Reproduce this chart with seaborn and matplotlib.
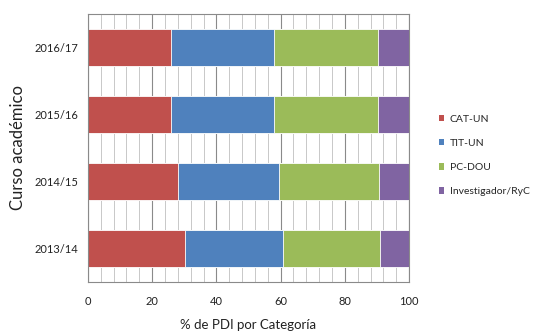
import matplotlib
matplotlib.use("Agg")
import matplotlib.pyplot as plt
from matplotlib.patches import Patch
from matplotlib.ticker import MultipleLocator
import seaborn as sns
import pandas as pd
import numpy as np

cursos = ["2016/17", "2015/16", "2014/15", "2013/14"]
series = ["CAT-UN", "TIT-UN", "PC-DOU", "Investigador/RyC"]
cat_un = [25.9, 25.9, 28.1, 30.2]
tit_un = [31.9, 32.0, 31.4, 30.4]
pc_dou = [32.4, 32.4, 31.2, 30.4]
invest = [9.8, 9.7, 9.3, 9.0]
colors = ["#C0504D", "#4F81BD", "#9BBB59", "#8064A2"]

sns.set_theme(style="white")
plt.rcParams["font.family"] = ["Lato", "DejaVu Sans"]

df = pd.DataFrame({"Curso": cursos, "CAT-UN": cat_un, "TIT-UN": tit_un,
                   "PC-DOU": pc_dou, "Investigador/RyC": invest})
cum = df[series].cumsum(axis=1)

fig = plt.figure(figsize=(5.39, 3.31), dpi=100)
ax = fig.add_axes([0.163, 0.148, 0.596, 0.81])
ax.set_axisbelow(True)

for s, c in reversed(list(zip(series, colors))):
    sns.barplot(x=cum[s], y=df["Curso"], order=cursos, orient="h", color=c,
                width=0.55, edgecolor="white", linewidth=0.6, ax=ax, saturation=1)

ax.set_xlim(0, 100)
ax.set_ylim(3.5, -0.5)
ax.xaxis.set_major_locator(MultipleLocator(20))
ax.xaxis.set_minor_locator(MultipleLocator(4))
ax.grid(True, axis="x", which="major", color="#8a8a8a", linewidth=0.8)
ax.grid(True, axis="x", which="minor", color="#c8c8c8", linewidth=0.7)
ax.grid(False, axis="y")
for sp in ax.spines.values():
    sp.set_color("#8a8a8a")
    sp.set_linewidth(0.8)
ax.tick_params(axis="both", which="both", length=0, labelsize=8, colors="#222222")
ax.tick_params(axis="x", pad=10)
ax.tick_params(axis="y", pad=7)
ax.set_xlabel("% de PDI por Categoría", fontsize=9.5, color="#222222", labelpad=9)
ax.set_ylabel("Curso académico", fontsize=12, color="#222222", labelpad=6)

handles = [Patch(facecolor=c, edgecolor="none", label=s) for s, c in zip(series, colors)]
fig.legend(handles=handles, loc="center left", bbox_to_anchor=(0.806, 0.53),
           frameon=False, fontsize=7.5, handlelength=0.55, handleheight=0.55,
           handletextpad=0.5, labelspacing=1.45, borderaxespad=0)

fig.savefig("out.png", dpi=100)
